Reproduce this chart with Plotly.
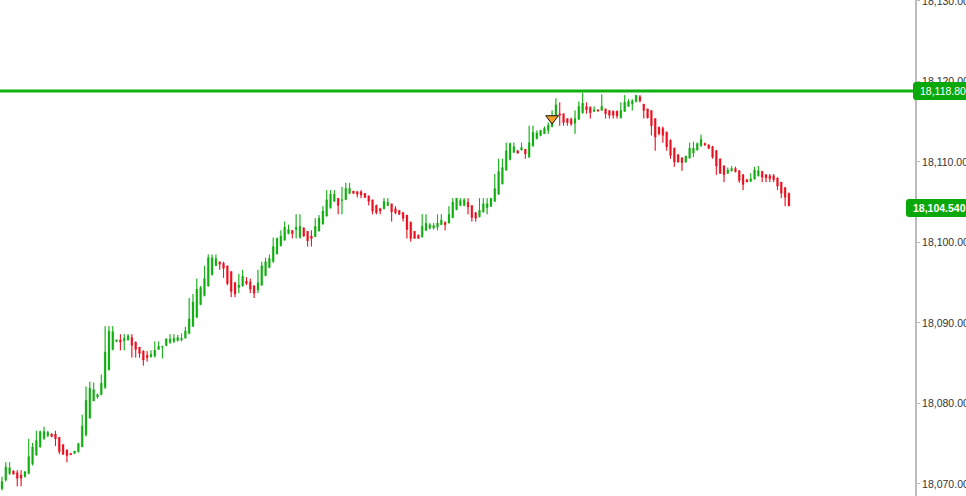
import plotly.graph_objects as go

PRICE_BASE = 18000
LEVEL_PRICE = 18118.80
Y_TICKS = [18070, 18080, 18090, 18100, 18110, 18120, 18130]
SIGNAL_BAR = 144
SIGNAL_PRICE = 18115.4

high = [
 70.9,72.7,72.7,71.7,71.7,71.7,71.6,75.6,75.1,76.6,
 76.6,77.1,76.6,76.3,76.6,75.8,74.9,74.3,73.8,74.1,
 75.1,78.6,82.1,82.7,82.6,81.2,83.6,89.6,89.6,89.6,
 87.9,88.6,88.6,88.6,88.6,87.7,87.0,86.6,86.5,86.6,
 87.7,87.7,87.1,88.1,88.6,88.6,88.5,88.7,89.5,93.1,
 93.6,95.5,94.6,97.1,98.5,98.5,98.5,97.6,97.6,97.1,
 96.4,95.1,96.1,96.6,95.7,95.5,94.7,96.6,97.6,98.1,
 98.5,100.6,100.6,101.5,102.6,102.2,101.5,103.5,103.5,101.9,
 101.4,101.5,103.0,103.4,104.5,106.5,106.5,106.5,105.5,106.9,
 107.4,107.4,106.4,106.4,106.5,106.1,105.8,105.3,104.7,104.3,
 105.5,105.5,104.8,104.5,104.0,103.8,103.4,102.6,101.4,101.0,
 103.5,103.5,102.4,102.4,103.5,103.5,102.6,104.5,105.5,105.5,
 105.5,105.5,105.5,104.6,103.8,105.5,105.5,105.5,105.5,108.5,
 110.4,110.4,112.4,112.4,112.4,111.5,112.4,111.6,114.5,114.5,
 113.9,114.0,114.4,114.9,116.4,117.9,117.4,116.0,115.4,115.5,
 116.4,117.5,118.6,117.4,116.9,116.9,116.5,118.4,116.6,116.4,
 116.4,116.4,117.4,118.3,117.8,117.8,118.3,118.3,117.2,116.6,
 116.4,115.4,114.4,114.4,113.8,112.8,111.8,111.0,110.6,110.8,
 112.4,112.5,112.4,113.4,112.4,112.2,112.0,111.5,110.4,109.6,
 109.3,109.5,109.4,109.0,108.5,107.9,108.6,109.4,109.5,108.9,
 108.5,108.5,108.5,108.1,107.5,106.9,106.2,
]
low = [
 69.2,70.3,71.1,71.2,69.7,69.7,70.8,71.2,72.3,73.5,
 74.5,75.5,75.8,75.8,74.7,73.7,73.6,72.7,73.6,73.7,
 73.9,74.6,75.9,78.1,80.3,80.6,81.0,81.8,84.1,86.6,
 87.6,86.6,86.6,87.8,85.7,85.7,85.7,84.7,85.2,85.7,
 85.7,86.7,85.6,87.1,87.4,87.5,87.7,87.7,88.1,88.6,
 89.5,90.6,92.2,93.3,94.5,95.9,97.1,96.6,95.6,94.7,
 93.2,93.2,93.7,94.5,94.7,93.7,93.1,93.7,94.6,95.8,
 96.8,97.5,98.5,99.5,100.2,101.0,100.5,100.5,100.5,100.7,
 99.5,99.5,100.7,101.4,102.2,103.2,104.2,105.1,103.5,103.5,
 105.3,106.0,106.0,105.6,105.5,105.5,104.6,103.5,103.5,103.5,
 104.1,104.5,102.6,103.5,103.4,102.6,100.5,100.1,100.5,100.5,
 100.6,101.4,101.6,101.6,101.5,102.2,101.5,102.4,103.0,104.0,
 104.5,104.5,103.5,102.6,102.6,103.1,103.7,103.5,104.4,105.1,
 105.9,107.2,108.9,110.2,111.1,111.0,111.4,110.4,110.5,111.9,
 112.8,113.2,113.5,113.5,114.3,115.6,114.5,114.5,114.5,114.5,
 113.5,115.2,116.0,116.0,115.4,116.2,116.3,116.4,115.4,115.4,
 115.4,115.4,115.4,116.2,116.9,116.4,117.4,117.4,115.4,115.4,
 113.3,111.4,113.3,112.4,111.4,110.4,109.4,109.9,108.9,109.9,
 110.4,110.6,111.4,111.9,112.0,111.6,110.4,108.4,108.5,107.5,
 108.5,108.8,108.7,107.4,106.5,107.5,107.5,107.8,108.2,107.5,
 107.5,107.5,107.5,106.5,105.5,104.5,104.5,
]
open_ = [
 69.4,70.5,71.3,71.6,71.4,71.1,70.9,71.3,72.5,73.6,
 74.6,75.6,76.0,76.2,76.2,75.8,74.9,74.2,73.8,73.8,
 74.0,74.6,76.1,78.2,80.3,80.8,81.1,82.0,84.2,86.7,
 87.7,87.9,87.8,87.9,88.2,87.6,87.0,86.5,86.0,85.8,
 85.9,86.7,87.0,87.2,87.6,87.7,87.8,87.9,88.1,88.7,
 89.6,90.7,92.3,93.4,94.6,96.0,97.1,97.6,97.4,97.1,
 96.4,95.0,94.4,94.6,95.2,95.1,94.6,94.1,94.7,95.9,
 96.9,97.6,98.6,99.6,100.3,101.1,101.5,101.6,100.6,101.8,
 101.4,100.8,100.7,101.4,102.3,103.3,104.3,105.1,105.5,105.2,
 105.3,106.1,106.4,106.3,106.3,106.1,105.8,105.3,104.6,104.2,
 104.2,104.6,104.8,104.2,104.0,103.7,103.4,102.5,101.4,100.9,
 100.7,101.5,101.8,101.8,101.9,102.2,102.5,102.4,103.1,104.1,
 104.6,104.6,105.0,104.6,103.7,103.2,103.8,104.3,104.5,105.1,
 106.0,107.3,109.0,110.3,111.2,111.4,111.5,111.6,110.6,112.0,
 112.9,113.3,113.5,113.9,114.4,115.8,116.0,116.0,115.4,115.3,
 114.8,115.3,116.1,116.9,116.8,116.3,116.5,116.4,116.6,116.4,
 116.3,116.3,115.5,116.3,116.9,117.2,117.5,118.1,117.2,116.6,
 116.4,115.4,114.3,114.2,113.7,112.7,111.7,110.9,110.5,110.0,
 110.5,111.1,111.5,112.0,112.3,112.1,111.9,111.4,110.4,109.5,
 108.6,108.9,109.2,108.9,108.4,107.8,107.6,107.9,108.3,108.8,
 108.4,108.3,108.3,108.0,107.5,106.8,106.1,
]
close = [
 70.3,72.1,72.0,71.2,70.7,70.7,71.5,73.4,74.6,75.4,
 76.5,76.5,76.4,75.9,75.6,74.0,73.7,73.5,73.6,74.1,
 75.0,77.2,80.4,81.9,81.7,81.1,82.5,86.4,89.0,88.9,
 87.9,87.6,88.1,88.4,87.2,86.7,86.2,85.4,85.7,86.1,
 86.6,87.1,87.1,88.0,88.0,88.1,88.2,88.1,89.0,90.5,
 92.6,94.2,94.4,95.5,98.1,98.1,98.0,97.3,96.8,94.9,
 93.9,93.6,94.7,95.8,94.9,94.2,93.7,95.0,97.1,97.6,
 98.0,99.5,100.5,100.8,101.9,101.6,101.1,101.9,102.0,100.8,
 100.2,100.5,102.0,103.0,103.9,105.3,106.0,106.0,104.6,105.3,
 106.7,106.7,106.1,106.0,105.9,105.6,105.1,103.9,103.7,103.9,
 105.1,105.0,103.8,103.7,103.5,103.0,101.6,100.5,100.5,100.5,
 102.0,102.4,102.2,102.1,102.4,102.8,102.2,103.5,105.0,105.5,
 105.2,105.3,104.4,103.1,103.0,104.0,104.8,104.8,105.5,106.7,
 108.8,109.3,111.4,112.3,111.9,111.1,111.8,111.0,112.4,113.7,
 113.6,113.9,114.2,114.6,115.6,117.1,115.8,114.9,114.9,114.7,
 115.4,116.9,117.3,116.5,116.1,116.5,116.3,116.9,116.0,115.8,
 115.8,115.7,116.4,117.4,117.5,117.6,118.3,117.6,116.4,115.5,
 114.5,113.1,113.5,113.3,111.9,110.8,110.0,110.0,109.9,110.7,
 111.7,111.7,112.3,112.8,112.1,111.7,110.6,109.5,108.6,108.4,
 109.0,109.2,108.8,107.7,107.2,107.5,107.9,109.0,108.9,108.1,
 108.0,107.9,107.8,107.0,106.1,105.6,104.54,
]

GREEN = "#12ad12"
RED = "#ea1020"
FONT = "Liberation Sans"

bars = list(range(len(close)))
to_price = lambda arr: [PRICE_BASE + v for v in arr]

fig = go.Figure()
fig.add_trace(go.Candlestick(
    x=bars, open=to_price(open_), high=to_price(high), low=to_price(low), close=to_price(close),
    whiskerwidth=0,
    increasing=dict(line=dict(color=GREEN, width=0.3), fillcolor=GREEN),
    decreasing=dict(line=dict(color=RED, width=0.3), fillcolor=RED),
    hoverinfo="skip", showlegend=False,
))
for is_up, color in ((True, GREEN), (False, RED)):
    wx, wy = [], []
    for i in bars:
        if (close[i] >= open_[i]) == is_up:
            wx += [i, i, None]
            wy += [PRICE_BASE + low[i], PRICE_BASE + high[i], None]
    fig.add_trace(go.Scatter(x=wx, y=wy, mode="lines", line=dict(color=color, width=1),
                             hoverinfo="skip", showlegend=False))
fig.add_trace(go.Scatter(
    x=[SIGNAL_BAR], y=[SIGNAL_PRICE], mode="markers",
    marker=dict(symbol="triangle-down", size=11, color="#f5a020", line=dict(color="#111111", width=1)),
    hoverinfo="skip", showlegend=False,
))


def rounded(x0, x1, y0, y1, r=3):
    return (f"M{x0 + r},{y0} L{x1},{y0} L{x1},{y1} L{x0 + r},{y1} "
            f"Q{x0},{y1} {x0},{y1 - r} L{x0},{y0 + r} Q{x0},{y0} {x0 + r},{y0} Z")


LAST_PRICE = PRICE_BASE + close[-1]
shapes = [
    dict(type="line", xref="paper", x0=0, x1=1, yref="y", y0=LEVEL_PRICE, y1=LEVEL_PRICE,
         line=dict(color="#10b010", width=3), layer="above"),
    dict(type="path", xref="paper", xanchor=1, xsizemode="pixel", yref="y", yanchor=LEVEL_PRICE,
         ysizemode="pixel", path=rounded(-2, 61, -9, 9), fillcolor="#0aa80a", line=dict(width=0), layer="above"),
    dict(type="path", xref="paper", xanchor=1, xsizemode="pixel", yref="y", yanchor=LAST_PRICE,
         ysizemode="pixel", path=rounded(-9, 61, -11, 7), fillcolor="#0aa80a", line=dict(width=0), layer="above"),
]
annotations = [
    dict(xref="paper", yref="y", x=1, y=LEVEL_PRICE, xanchor="left", xshift=3, showarrow=False,
         text=f"{LEVEL_PRICE:,.2f}", font=dict(family=FONT, size=10.5, color="white")),
    dict(xref="paper", yref="y", x=1, y=LAST_PRICE, xanchor="left", xshift=-4, yshift=-2, showarrow=False,
         text=f"<b>{LAST_PRICE:,.3f}</b>", font=dict(family=FONT, size=10.5, color="white")),
]

fig.update_layout(
    width=966, height=496, margin=dict(l=0, r=51, t=0, b=0),
    paper_bgcolor="white", plot_bgcolor="white", showlegend=False,
    shapes=shapes, annotations=annotations,
    xaxis=dict(visible=False, range=[-0.52, 239.0], rangeslider=dict(visible=False), fixedrange=True),
    yaxis=dict(side="right", range=[18068.5, 18130.12], tickvals=Y_TICKS, tickformat=",.2f",
               showgrid=False, zeroline=False, showline=True, linecolor="#bbbbbb", linewidth=2,
               ticks="outside", ticklen=3, tickcolor="#bbbbbb", tickwidth=1, ticklabeloverflow="allow",
               tickfont=dict(family=FONT, size=10.5, color="#333333"), automargin=False, fixedrange=True),
)
fig.write_html("out.html", config=dict(displayModeBar=False), post_script="document.body.style.margin='0';")
